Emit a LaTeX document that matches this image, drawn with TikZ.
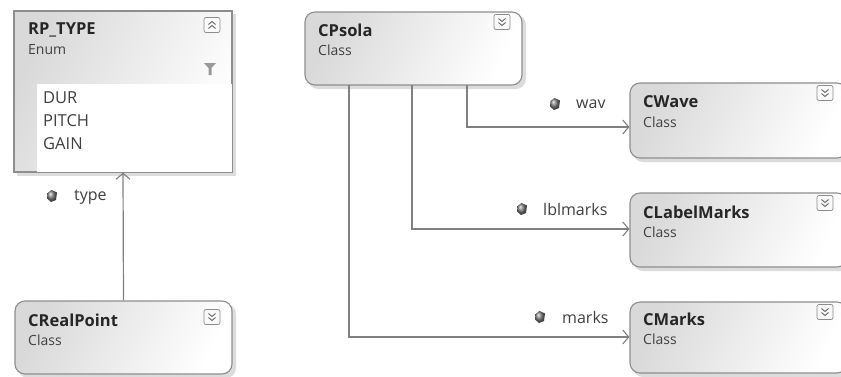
\documentclass[tikz,border=0pt]{standalone}
\usepackage{fontspec}
\setmainfont{Open Sans}
\usetikzlibrary{arrows.meta,shapes.geometric,calc}
\definecolor{bordergray}{HTML}{8E8E8E}
\definecolor{linegray}{HTML}{808080}
\definecolor{shadowgray}{HTML}{DCDCDC}
\tikzset{
  boxshade/.style={left color=black!15, right color=white, shading angle=65},
  classbox/.style={draw=bordergray, line width=1.1pt, rounded corners=10pt, boxshade, minimum width=217pt, minimum height=73pt, inner sep=0pt},
  enumbox/.style={draw=bordergray, line width=1.1pt, boxshade, minimum width=218pt, minimum height=161pt, inner sep=0pt},
  title/.style={font=\bfseries\fontsize{16.5}{18}\selectfont, anchor=west, inner sep=0pt, text=black!85},
  kind/.style={font=\fontsize{14}{16}\selectfont, anchor=west, inner sep=0pt, text=black!75},
  item/.style={font=\fontsize{16.5}{18}\selectfont, anchor=west, inner sep=0pt, text=black!75},
  lbl/.style={font=\fontsize{16}{18}\selectfont, anchor=west, inner sep=0pt, text=black!75},
  conn/.style={draw=linegray, line width=1.2pt, -{Straight Barb[length=6pt,width=14pt,line width=1.1pt]}},
  btn/.style={draw=black!45, line width=0.7pt, rounded corners=2pt, fill=white!95!gray, minimum width=16pt, minimum height=15pt, inner sep=0pt},
}
\newcommand{\downchev}[1]{%
  \draw[black!60, line width=0.9pt] ($(#1)+(-3.5,-3.5)$) -- ($(#1)+(0,-0.5)$) -- ($(#1)+(3.5,-3.5)$);
  \draw[black!60, line width=0.9pt] ($(#1)+(-3.5,0.5)$) -- ($(#1)+(0,3.5)$) -- ($(#1)+(3.5,0.5)$);}
\newcommand{\upchev}[1]{%
  \draw[black!60, line width=0.9pt] ($(#1)+(-3.5,-0.5)$) -- ($(#1)+(0,-3.5)$) -- ($(#1)+(3.5,-0.5)$);
  \draw[black!60, line width=0.9pt] ($(#1)+(-3.5,3.5)$) -- ($(#1)+(0,0.5)$) -- ($(#1)+(3.5,3.5)$);}
\newcommand{\gemat}[1]{%
  \shade[ball color=black!50] ($(#1)+(-0.5,-6)$) -- ($(#1)+(5,-3.5)$) -- ($(#1)+(4,4)$) -- ($(#1)+(-1,6)$) -- ($(#1)+(-5,2.5)$) -- ($(#1)+(-4.5,-3)$) -- cycle;}
\begin{document}
\begin{tikzpicture}[x=1pt,y=-1pt]
\useasboundingbox[fill=white] (0,0) rectangle (841,376);

% shadows
\fill[shadowgray] (17,14) rectangle (236,176);
\fill[shadowgray, rounded corners=10pt] (18,304) rectangle (236,378);
\fill[shadowgray, rounded corners=10pt] (308,15) rectangle (526,89);
\fill[shadowgray, rounded corners=10pt] (633,86) rectangle (851,162);
\fill[shadowgray, rounded corners=10pt] (633,196) rectangle (851,271);
\fill[shadowgray, rounded corners=10pt] (633,305) rectangle (851,377);

% RP_TYPE enum
\node[enumbox] (rptype) at (123,91.5) {};
\fill[white] (37,84) rectangle (231.5,171.5);
\node[title] (rptitle) at (28,30) {RP\_TYPE};
\node[kind] (rpkind) at (28,50) {Enum};
\node[item] (dur) at (43,98) {DUR};
\node[item] (pitch) at (43,121) {PITCH};
\node[item] (gain) at (43,144) {GAIN};
\node[btn] (rpbtn) at (212,25) {};
\upchev{rpbtn}
% filter icon
\fill[black!40] (204,63) -- (216,63) -- (211.5,68) -- (211.5,75) -- (208.5,75) -- (208.5,68) -- cycle;

% CRealPoint
\node[classbox] (crp) at (123.5,337.5) {};
\node[title] (crptitle) at (28,320) {CRealPoint};
\node[kind] (crpkind) at (28,340) {Class};
\node[btn] (crpbtn) at (212,317) {};
\downchev{crpbtn}

% CPsola
\node[classbox] (cps) at (413.5,48.5) {};
\node[title] (cpstitle) at (318,30) {CPsola};
\node[kind] (cpskind) at (318,50) {Class};
\node[btn] (cpsbtn) at (502,22) {};
\downchev{cpsbtn}

% CWave
\node[classbox, minimum height=75pt] (cwave) at (738.5,120.5) {};
\node[title] (cwtitle) at (643,102) {CWave};
\node[kind] (cwkind) at (643,122) {Class};
\node[btn] (cwbtn) at (825,93) {};
\downchev{cwbtn}

% CLabelMarks
\node[classbox, minimum height=74pt] (clm) at (738.5,230) {};
\node[title] (clmtitle) at (643,212) {CLabelMarks};
\node[kind] (clmkind) at (643,232) {Class};
\node[btn] (clmbtn) at (825,203) {};
\downchev{clmbtn}

% CMarks
\node[classbox, minimum height=71pt] (cm) at (738.5,337.5) {};
\node[title] (cmtitle) at (643,319) {CMarks};
\node[kind] (cmkind) at (643,339) {Class};
\node[btn] (cmbtn) at (825,312) {};
\downchev{cmbtn}

% connectors
\draw[conn] (crp.north) -- (rptype.south);
\coordinate (pw) at (467,85);
\coordinate (pl) at (412,85);
\coordinate (pm) at (349,85);
\draw[conn] (pw) |- (cwave.west |- 0,127);
\draw[conn] (pl) |- (clm.west |- 0,229);
\draw[conn] (pm) |- (cm.west |- 0,337);

% labels with member icons
\coordinate (gtype) at (52,196);
\gemat{gtype}
\node[lbl] (ltype) at (74,197) {type};
\coordinate (gwav) at (555,104);
\gemat{gwav}
\node[lbl] (lwav) at (576,104) {wav};
\coordinate (glbl) at (522,209);
\gemat{glbl}
\node[lbl] (llbl) at (543,209) {lblmarks};
\coordinate (gmarks) at (540,317);
\gemat{gmarks}
\node[lbl] (lmarks) at (562,317) {marks};
\end{tikzpicture}
\end{document}
